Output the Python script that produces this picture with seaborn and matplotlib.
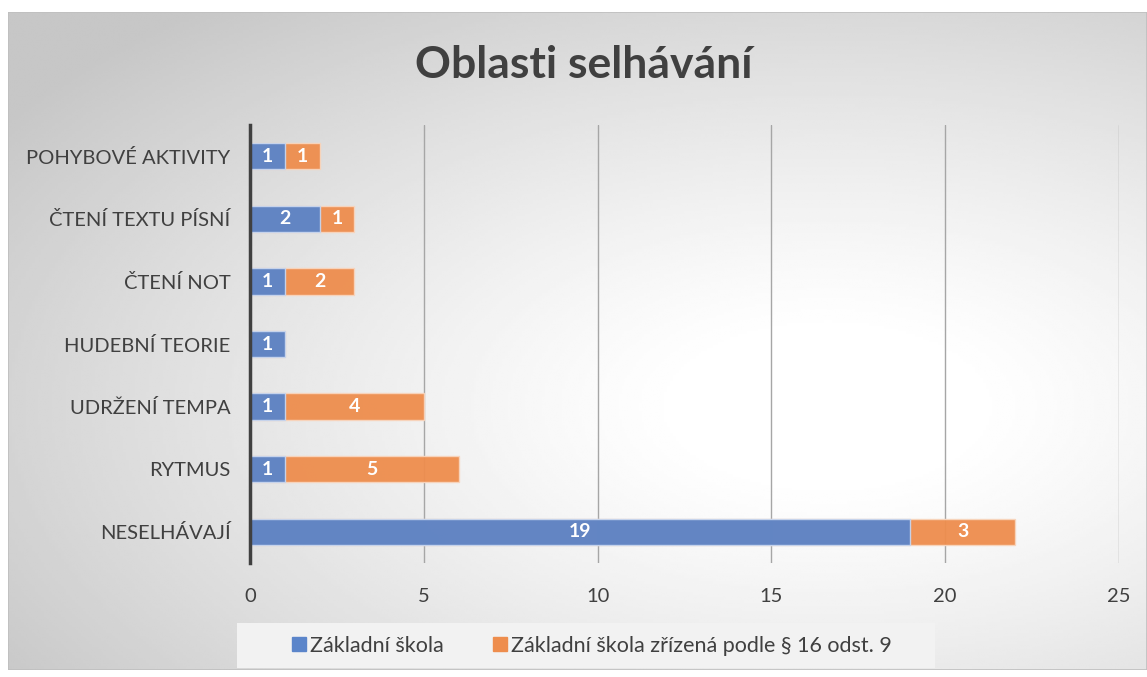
import numpy as np
import pandas as pd
import matplotlib.pyplot as plt
import seaborn as sns
from matplotlib.lines import Line2D

# Data (top to bottom as shown)
categories = ['POHYBOVÉ AKTIVITY', 'ČTENÍ TEXTU PÍSNÍ', 'ČTENÍ NOT', 'HUDEBNÍ TEORIE',
              'UDRŽENÍ TEMPA', 'RYTMUS', 'NESELHÁVAJÍ']
zakladni = [1, 2, 1, 1, 1, 1, 19]
zrizena = [1, 1, 2, 0, 4, 5, 3]
series_names = ['Základní škola', 'Základní škola zřízená podle § 16 odst. 9']
x_ticks = [0, 5, 10, 15, 20, 25]

blue = '#5b85ca'
orange = '#ee8d4d'

df = pd.DataFrame({'kategorie': categories, 'zs': zakladni, 'zr': zrizena})
df['total'] = df['zs'] + df['zr']

sns.set_style('white')
plt.rcParams['font.family'] = ['Lato', 'DejaVu Sans']

fig = plt.figure(figsize=(11.47, 6.77), dpi=100)

# radial gradient background for the chart area
bg = fig.add_axes([8 / 1147, 7 / 677, 1 - 8 / 1147, 1 - 19 / 677], zorder=0)
gx, gy = np.meshgrid(np.linspace(0, 1, 400), np.linspace(0, 1, 240))
r = np.sqrt(((gx - 0.72) / 1.0) ** 2 + ((gy - 0.60) / 0.9) ** 2)
r = np.clip((r - 0.12) / 0.75, 0, 1)
shade = 1 - 0.22 * r ** 1.2
bg.imshow(shade, cmap='gray', vmin=0, vmax=1, aspect='auto', origin='upper',
          extent=[0, 1, 0, 1], interpolation='bilinear')
bg.set_axis_off()
bg.add_patch(plt.Rectangle((0, 0), 1, 1, transform=bg.transAxes, fill=False,
                           edgecolor='#bfbfbf', lw=1.2))

# legend box background
fig.patches.append(plt.Rectangle((237 / 1147, 1 - 668 / 677), (935 - 237) / 1147, 45 / 677,
                                 transform=fig.transFigure, facecolor='#f2f2f2',
                                 edgecolor='none', zorder=0.5))

ax = fig.add_axes([250 / 1147, (677 - 563) / 677, (1119 - 250) / 1147, (563 - 125) / 677], zorder=1)
ax.patch.set_alpha(0)

sns.barplot(data=df, x='total', y='kategorie', color=orange, saturation=1, orient='h',
            width=0.42, ax=ax, alpha=0.95, edgecolor='#f8d5bd', linewidth=1)
sns.barplot(data=df, x='zs', y='kategorie', color=blue, saturation=1, orient='h',
            width=0.42, ax=ax, alpha=0.95, edgecolor='#c8d6ee', linewidth=1)

for i, row in df.iterrows():
    if row['zs'] > 0:
        ax.text(row['zs'] / 2, i, str(row['zs']), ha='center', va='center',
                color='white', fontsize=14, fontweight='bold')
    if row['zr'] > 0:
        ax.text(row['zs'] + row['zr'] / 2, i, str(row['zr']), ha='center', va='center',
                color='white', fontsize=14, fontweight='bold')

ax.set_xlim(0, 25)
ax.set_xticks(x_ticks)
ax.set_xticklabels([str(t) for t in x_ticks])
ax.xaxis.grid(True, color='#a6a6a6', lw=1)
ax.set_axisbelow(True)
ax.set_xlabel('')
ax.set_ylabel('')
for s in ['top', 'right', 'bottom']:
    ax.spines[s].set_visible(False)
ax.spines['left'].set_color('#404040')
ax.spines['left'].set_linewidth(2.5)
ax.tick_params(axis='both', length=0, labelsize=14.5, colors='#404040')
ax.tick_params(axis='y', pad=14)
ax.tick_params(axis='x', pad=18)

fig.text(0.509, 1 - 78 / 677, 'Oblasti selhávání', ha='center', va='baseline',
         fontsize=32, fontweight='bold', color='#404040')

handles = [Line2D([], [], marker='s', ls='', color=blue, markersize=10),
           Line2D([], [], marker='s', ls='', color=orange, markersize=10)]
leg = fig.legend(handles, series_names, loc='center', bbox_to_anchor=(590 / 1147, 1 - 645.5 / 677),
                 ncol=2, frameon=False, fontsize=15.5, handletextpad=0.0, handlelength=1.0,
                 columnspacing=2.15, labelcolor='#404040')

fig.savefig('out.png', dpi=100)
